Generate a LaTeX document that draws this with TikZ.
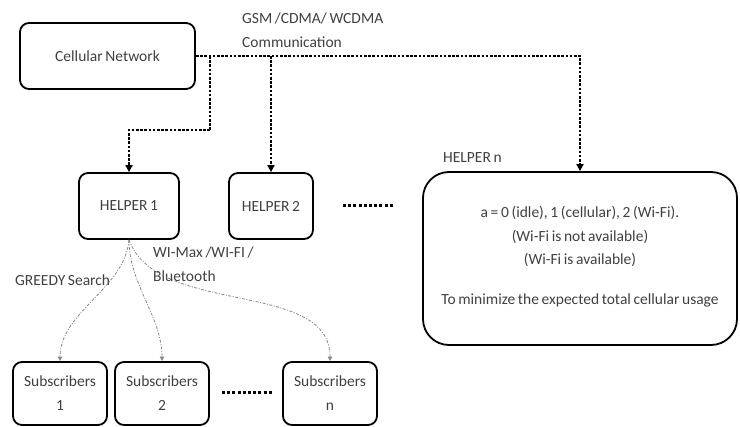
\documentclass[tikz,border=0pt]{standalone}
\usepackage{fontspec}
\setmainfont{Carlito}[WordSpace=0.75]
\usetikzlibrary{arrows.meta}
\definecolor{txt}{HTML}{404040}
\definecolor{lnk}{HTML}{8A8A8A}
\tikzset{
  box/.style={draw=black,line width=1.8pt,rounded corners=9pt,inner sep=0pt,text=txt,align=center},
  lbl/.style={inner sep=0pt,text=txt,align=left,anchor=west},
  conn/.style={line width=2.6pt,dash pattern=on 2.6pt off 1.6pt,-{Triangle[length=7pt,width=7pt]}},
  plain/.style={line width=2.6pt,dash pattern=on 2.6pt off 1.6pt},
  wl/.style={draw=lnk,line width=0.8pt,dash pattern=on 3pt off 1.5pt on 1pt off 1.5pt,-{Triangle[length=4.5pt,width=4.5pt]},looseness=0.9},
  dotsep/.style={line width=3pt,dash pattern=on 3pt off 2.2pt}
}
\begin{document}
\begin{tikzpicture}[x=1pt,y=-1pt,font=\fontsize{15.5}{24}\selectfont]
\useasboundingbox (0,0) rectangle (740,427);
% boxes
\node[box,minimum width=175pt,minimum height=66pt] (cn) at (107.5,56) {Cellular Network};
\node[box,minimum width=100pt,minimum height=66pt] (h1) at (129,206) {HELPER 1};
\node[box,minimum width=84pt,minimum height=66pt] (h2) at (271,206) {HELPER 2};
\node[box,rounded corners=26pt,minimum width=314pt,minimum height=173pt] (hn) at (580,258.5) {};
\node[inner sep=0pt,text=txt,align=center,font=\fontsize{15.5}{23.5}\selectfont] (hntext) at (580,257) {a = 0 (idle), 1 (cellular), 2 (Wi-Fi).\\(Wi-Fi is not available)\\(Wi-Fi is available)\\[16.5pt]To minimize the expected total cellular usage};
\node[box,minimum width=94pt,minimum height=63pt] (s1) at (60,393.5) {Subscribers\\1};
\node[box,minimum width=94pt,minimum height=63pt] (s2) at (162,393.5) {Subscribers\\2};
\node[box,minimum width=94pt,minimum height=63pt] (sn) at (330,393.5) {Subscribers\\n};
% labels
\node[lbl] (gsm) at (242,30) {GSM /CDMA/ WCDMA\\Communication};
\node[lbl] (hnl) at (443,158) {HELPER n};
\node[lbl] (wimax) at (153,264.5) {WI-Max /WI-FI /\\Bluetooth};
\node[lbl] (greedy) at (15,280) {GREEDY Search};
% dotted connectors
\coordinate (j1) at (210,56);
\coordinate (j2) at (271,56);
\coordinate (k1) at (210,130);
\draw[conn] (cn.east) -| (hn.north);
\draw[plain] (j1) -- (k1);
\draw[conn] (k1) -| (h1.north);
\draw[conn] (j2) -- (h2.north);
% ellipsis dots
\coordinate (d1a) at (343,206); \coordinate (d1b) at (393,206);
\coordinate (d2a) at (222,393); \coordinate (d2b) at (272,393);
\draw[dotsep] (d1a) -- (d1b);
\draw[dotsep] (d2a) -- (d2b);
% wireless links
\draw[wl] (h1.south) to[out=-95,in=90] (s1.north);
\draw[wl] (h1.south) to[out=-90,in=90] (s2.north);
\draw[wl] (h1.south) to[out=-70,in=90] (sn.north);
\end{tikzpicture}
\end{document}
